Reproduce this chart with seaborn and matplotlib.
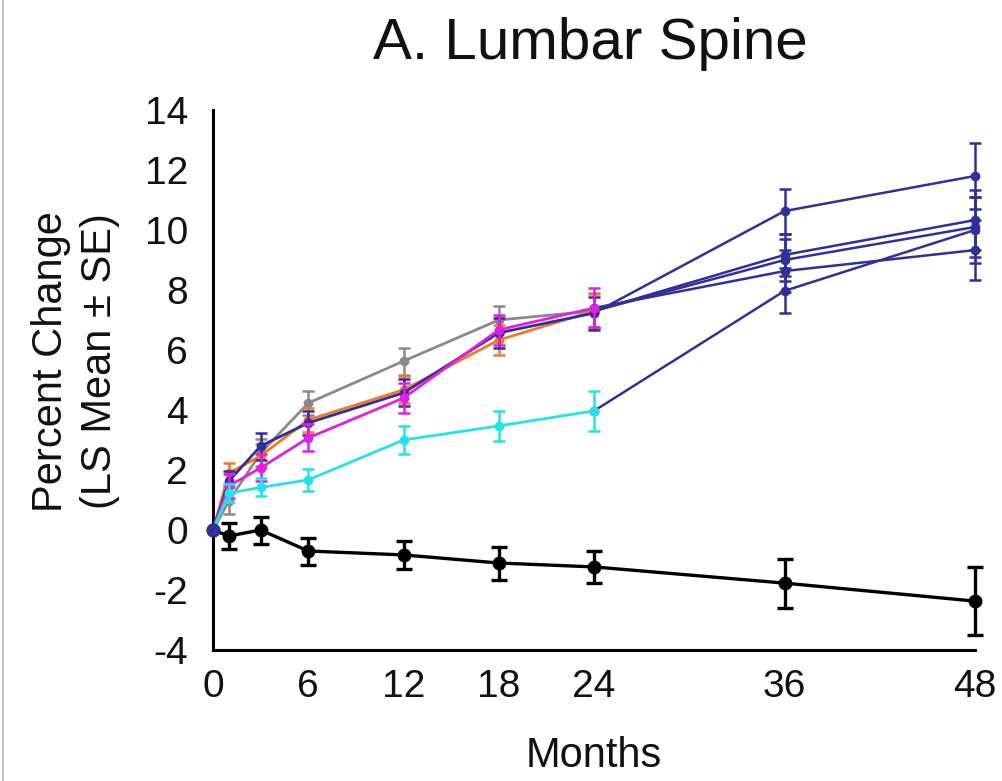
import matplotlib
matplotlib.use("Agg")
import matplotlib.pyplot as plt
import seaborn as sns
import pandas as pd
from matplotlib.lines import Line2D
from matplotlib.ticker import MultipleLocator

sns.set_style("white")
plt.rcParams['font.family'] = ['Liberation Sans', 'DejaVu Sans']

months = [0, 1, 3, 6, 12, 18, 24, 36, 48]
tick_months = [0, 6, 12, 18, 24, 36, 48]
yticks = [-4, -2, 0, 2, 4, 6, 8, 10, 12, 14]

placebo = [0, -0.2, 0.0, -0.7, -0.83, -1.1, -1.23, -1.77, -2.37]
placebo_se = [0, 0.43, 0.45, 0.45, 0.48, 0.55, 0.53, 0.82, 1.13]

cyan_grp = [0, 1.23, 1.42, 1.67, 3.0, 3.47, 3.97, 7.97, 10.0]
cyan_se = [0, 0.3, 0.3, 0.38, 0.47, 0.5, 0.67, 0.75, 1.1]

orange_grp = [0, 1.9, 2.47, 3.67, 4.67, 6.33, 7.3, 9.0, 10.1]
orange_se = [0, 0.35, 0.4, 0.4, 0.45, 0.5, 0.55, 0.7, 1.0]

gray_grp = [0, 0.97, 2.57, 4.23, 5.63, 7.0, 7.3, 9.17, 10.33]
gray_se = [0, 0.45, 0.45, 0.4, 0.45, 0.45, 0.6, 0.7, 1.0]

magenta_grp = [0, 1.47, 2.07, 3.07, 4.4, 6.67, 7.4, 8.63, 9.33]
magenta_se = [0, 0.4, 0.45, 0.45, 0.5, 0.5, 0.65, 0.7, 1.0]

blue_grp = [0, 1.63, 2.8, 3.57, 4.57, 6.57, 7.23, 10.63, 11.8]
blue_se = [0, 0.35, 0.45, 0.4, 0.45, 0.5, 0.55, 0.75, 1.1]

BLUE = '#30309a'
series = [
    ("gray", gray_grp, gray_se, '#8a8a8a'),
    ("orange", orange_grp, orange_se, '#f07a22'),
    ("blue", blue_grp, blue_se, BLUE),
    ("magenta", magenta_grp, magenta_se, '#e21fe0'),
    ("cyan", cyan_grp, cyan_se, '#22e2ea'),
]

fig = plt.figure(figsize=(10.02, 7.81), dpi=100)
ax = fig.add_axes([0.2126, 0.1677, 0.7605, 0.6915])

split = months.index(24)
for name, vals, se, col in series:
    # post-24 extension in blue
    df2 = pd.DataFrame({"Months": months[split:], "v": vals[split:]})
    sns.lineplot(data=df2, x="Months", y="v", ax=ax, color=BLUE, lw=1.8,
                 marker='o', markersize=7, markeredgewidth=0, zorder=2, clip_on=False)
    eb = ax.errorbar(months[split + 1:], vals[split + 1:], yerr=se[split + 1:], fmt='none',
                     ecolor=BLUE, elinewidth=1.8, capsize=4, capthick=1.8, zorder=2)
    for a in eb.lines[1] + eb.lines[2]:
        a.set_clip_on(False)

for name, vals, se, col in series:
    df1 = pd.DataFrame({"Months": months[:split + 1], "v": vals[:split + 1]})
    sns.lineplot(data=df1, x="Months", y="v", ax=ax, color=col, lw=2.0,
                 marker='o', markersize=7, markeredgewidth=0, zorder=3, clip_on=False)
    ax.errorbar(months[1:split + 1], vals[1:split + 1], yerr=se[1:split + 1], fmt='none',
                ecolor=col, elinewidth=1.8, capsize=4, capthick=1.8, zorder=3)

dfp = pd.DataFrame({"Months": months, "v": placebo})
sns.lineplot(data=dfp, x="Months", y="v", ax=ax, color='black', lw=2.4,
             marker='o', markersize=10, markeredgewidth=0, zorder=4, clip_on=False)
eb = ax.errorbar(months[1:], placebo[1:], yerr=placebo_se[1:], fmt='none',
                 ecolor='black', elinewidth=2.4, capsize=6, capthick=2.4, zorder=4)
for a in eb.lines[1] + eb.lines[2]:
    a.set_clip_on(False)
# blue dot at origin
ax.plot([0], [0], 'o', color=BLUE, markersize=9, zorder=5, clip_on=False)

ax.set_xlim(0, 48)
ax.set_ylim(-4, 14)
ax.set_xticks(tick_months)
ax.set_xticklabels([str(m) for m in tick_months], fontsize=28)
ax.xaxis.set_minor_locator(MultipleLocator(1))
ax.set_yticks(yticks)
ax.set_yticklabels([str(v) for v in yticks], fontsize=28)
ax.tick_params(axis='x', which='major', direction='out', length=4, width=1.5, pad=10, colors='black')
ax.tick_params(axis='x', which='minor', direction='out', length=3, width=1.5, colors='black')
ax.tick_params(axis='y', which='major', direction='out', length=4, width=1.5, pad=14, colors='black')
ax.tick_params(labelcolor='#111111')

for s in ['top', 'right']:
    ax.spines[s].set_visible(False)
for s in ['left', 'bottom']:
    ax.spines[s].set_color('black')
    ax.spines[s].set_linewidth(2.2)

ax.set_xlabel("Months", fontsize=30, color='#111111')
ax.xaxis.set_label_coords(0.5, -0.16)
ax.set_ylabel("Percent Change\n(LS Mean \u00b1 SE)", fontsize=30, color='#111111', linespacing=1.3)
ax.yaxis.set_label_coords(-0.122, 0.535)

fig.text(590 / 1002, 1 - 44 / 781, "A. Lumbar Spine", fontsize=42, ha='center', va='center', color='#111111')

# thin border line at the left edge
fig.add_artist(Line2D([3 / 1002, 3 / 1002], [0, 1], color='#bbbbbb', lw=1.2))

fig.savefig("out.png", dpi=100, facecolor='white')
